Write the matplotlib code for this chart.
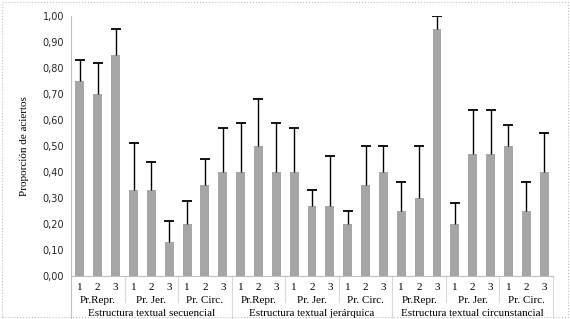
import matplotlib
matplotlib.use("Agg")
import matplotlib.pyplot as plt
import matplotlib.patches as patches
import numpy as np

# Data
structures = ["Estructura textual secuencial", "Estructura textual jerárquica", "Estructura textual circunstancial"]
prompts = ["Pr.Repr.", "Pr. Jer.", "Pr. Circ."]
levels = ["1", "2", "3"]

values = [0.75, 0.70, 0.85, 0.33, 0.33, 0.13, 0.20, 0.35, 0.40,
          0.40, 0.50, 0.40, 0.40, 0.27, 0.27, 0.20, 0.35, 0.40,
          0.25, 0.30, 0.95, 0.20, 0.47, 0.47, 0.50, 0.25, 0.40]
errors = [0.08, 0.12, 0.10, 0.18, 0.11, 0.08, 0.09, 0.10, 0.17,
          0.19, 0.18, 0.19, 0.17, 0.06, 0.19, 0.05, 0.15, 0.10,
          0.11, 0.20, 0.05, 0.08, 0.17, 0.17, 0.08, 0.11, 0.15]

serif = "Liberation Serif"
sepColor = "#d9d9d9"

fig = plt.figure(figsize=(5.7, 3.19), dpi=100)
ax = fig.add_axes([0.1246, 0.1348, 0.8456, 0.815])

x = np.arange(len(values))
vals = np.array(values)
ups = vals + np.array(errors)

ax.bar(x, vals, width=0.5, color="#a6a6a6", zorder=2)
ax.vlines(x, vals, ups, color="black", lw=1.0, zorder=3)
ax.plot(x, ups, ls="none", marker="_", ms=7, mew=1.3, color="black", zorder=3)

ax.set_xlim(-0.5, len(values) - 0.5)
ax.set_ylim(0, 1.0)
ax.set_yticks(np.arange(0, 1.01, 0.1))
ax.set_yticklabels([f"{v:.2f}".replace(".", ",") for v in np.arange(0, 1.01, 0.1)],
                   fontsize=7, color="#262626")
ax.tick_params(axis="y", length=0, pad=5)
ax.set_xticks([])
for s in ["top", "right"]:
    ax.spines[s].set_visible(False)
for s in ["left", "bottom"]:
    ax.spines[s].set_color("#bfbfbf")
    ax.spines[s].set_linewidth(0.8)

ax.set_ylabel("Proporción de aciertos", family=serif, fontsize=8, labelpad=10)

# Multi-level category axis
trans = ax.get_xaxis_transform()
nLev = len(levels)
nGroup = len(prompts) * nLev
for i in range(len(values)):
    ax.text(x[i], -0.046, levels[i % nLev], transform=trans, ha="center", va="center",
            family=serif, fontsize=8)
for s, name in enumerate(structures):
    for p, pname in enumerate(prompts):
        start = s * nGroup + p * nLev
        ax.text(start + (nLev - 1) / 2, -0.096, pname, transform=trans, ha="center",
                va="center", family=serif, fontsize=8)
    ax.text(s * nGroup + (nGroup - 1) / 2, -0.143, name, transform=trans, ha="center",
            va="center", family=serif, fontsize=8)

# Separator lines below the axis
for b in range(0, len(values) + 1, nLev):
    edge = b - 0.5
    depth = -0.16 if b % nGroup == 0 else -0.10
    ax.plot([edge, edge], [0, depth], transform=trans, color=sepColor if b else "#bfbfbf",
            lw=0.8, clip_on=False)

# Dotted border around the chart
fig.patches.append(patches.Rectangle((0.003, 0.005), 0.994, 0.99, transform=fig.transFigure,
                                     fill=False, ls=":", lw=0.8, ec="#c0c0c0"))

plt.savefig("out.png", dpi=100)
